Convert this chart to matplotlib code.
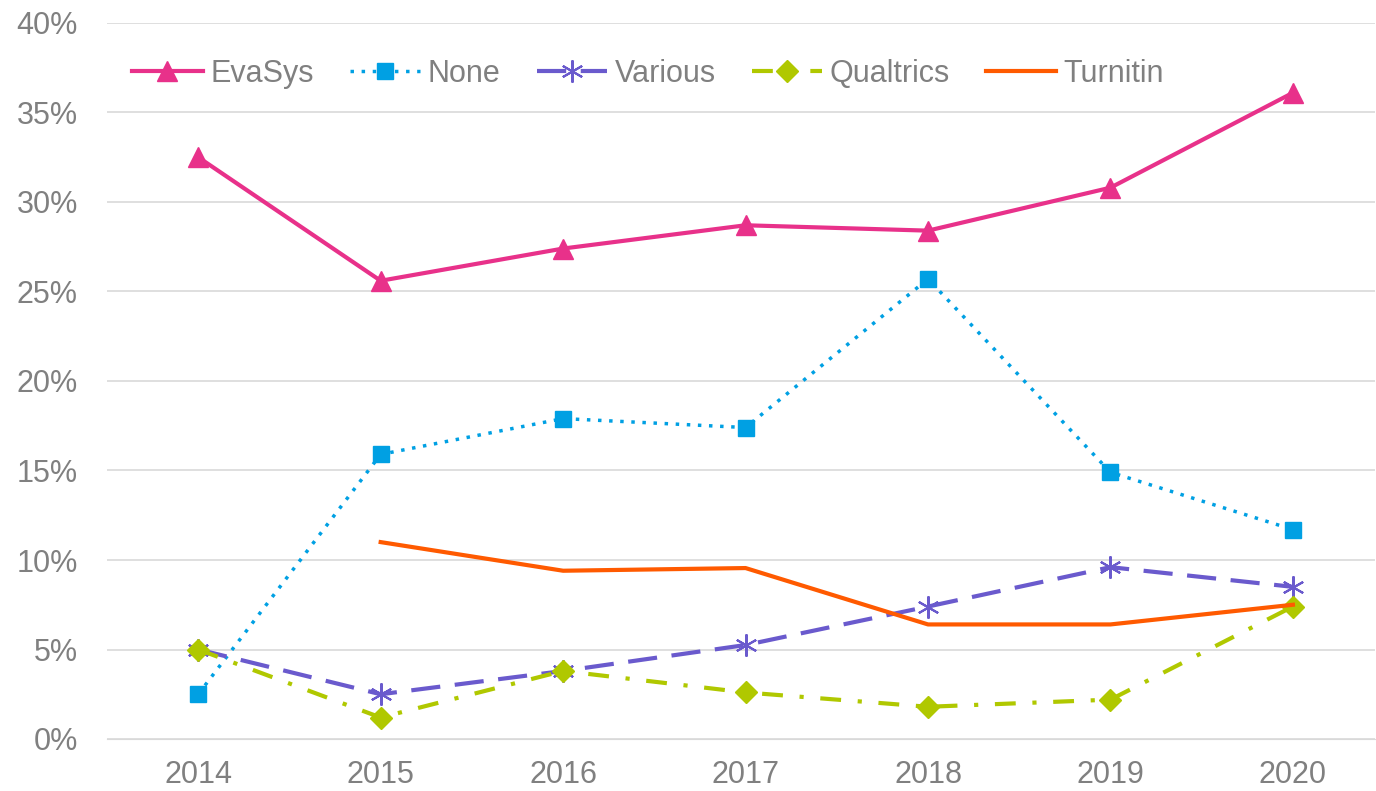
import numpy as np
import matplotlib.pyplot as plt
from matplotlib.ticker import PercentFormatter

years = ['2014', '2015', '2016', '2017', '2018', '2019', '2020']
evasys = [32.5, 25.6, 27.4, 28.7, 28.4, 30.8, 36.1]
none_ = [2.5, 15.9, 17.9, 17.4, 25.7, 14.9, 11.7]
various = [5.0, 2.5, 3.8, 5.25, 7.4, 9.6, 8.5]
qualtrics = [5.0, 1.2, 3.8, 2.6, 1.8, 2.2, 7.4]
turnitin = [np.nan, 11.0, 9.4, 9.55, 6.4, 6.4, 7.5]

grey = '#808080'
plt.rcParams['font.family'] = ['Liberation Sans', 'DejaVu Sans']

fig = plt.figure(figsize=(13.76, 7.91), dpi=100)
ax = fig.add_axes([107/1376, 1 - 739/791, (1375-107)/1376, (739-23)/791])
x = np.arange(len(years))

ax.plot(x, evasys, color='#e8318a', lw=3, marker='^', ms=14, label='EvaSys')
ax.plot(x, none_, color='#00a0e3', lw=2.5, ls=(0, (1, 2.2)), marker='s', ms=12, label='None')
ax.plot(x, various, color='#6a5acd', lw=3, ls=(0, (7, 3.5)), marker=(6, 2, 0), ms=16, mew=1.5, label='Various')
ax.plot(x, qualtrics, color='#b0c800', lw=3, ls=(0, (5, 4, 1, 4)), marker='D', ms=11, label='Qualtrics')
ax.plot(x, turnitin, color='#ff5a00', lw=3, label='Turnitin')

ax.set_xlim(-0.5, 6.45)
ax.set_ylim(0, 40)
ax.set_xticks(x)
ax.set_xticklabels(years)
ax.set_yticks(np.arange(0, 41, 5))
ax.yaxis.set_major_formatter(PercentFormatter(decimals=0))
ax.grid(axis='y', color='#d9d9d9', lw=1.2)
ax.set_axisbelow(True)
for s in ['top', 'right', 'left']:
    ax.spines[s].set_visible(False)
ax.spines['bottom'].set_color('#d9d9d9')
ax.tick_params(axis='both', length=0, labelsize=22, colors=grey)
ax.tick_params(axis='y', pad=21)
ax.tick_params(axis='x', pad=15)

leg = ax.legend(loc='center left', bbox_to_anchor=(0.02, 0.929), ncol=5, frameon=False,
                fontsize=22, handlelength=2.3, columnspacing=1.18, handletextpad=0.25,
                borderpad=0, borderaxespad=0)
for t in leg.get_texts():
    t.set_color(grey)

fig.savefig('out.png', dpi=100)
